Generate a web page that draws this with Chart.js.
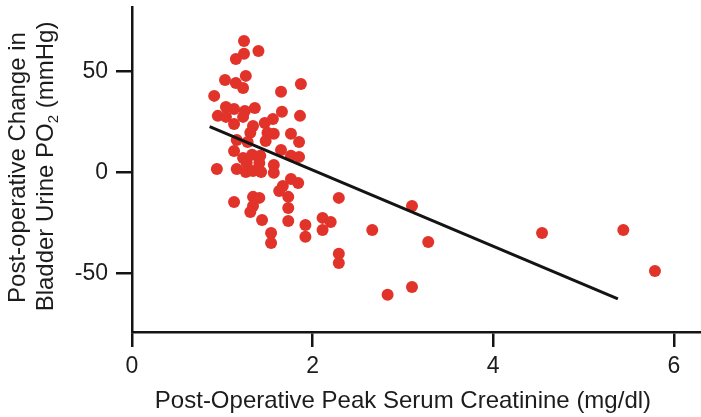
<!DOCTYPE html>
<html>
<head>
<meta charset="utf-8">
<script src="https://cdn.jsdelivr.net/npm/chart.js@4/dist/chart.umd.min.js"></script>
<style>
  html, body { margin: 0; padding: 0; background: #ffffff; }
  #wrap { width: 701px; height: 417px; }
</style>
</head>
<body>
<div id="wrap"><canvas id="chart" width="701" height="417"></canvas></div>
<script>
// Post-operative peak serum creatinine (mg/dl) per patient
const creatinine = [
  1.24, 1.40, 1.24, 1.15, 1.26, 1.03, 1.15, 1.23, 1.87, 0.91,
  1.65, 1.04, 1.13, 1.25, 1.36, 1.66, 1.86, 0.95, 1.04, 1.23,
  1.13, 1.34, 1.47, 1.56, 1.31, 1.50, 1.57, 1.76, 1.85, 1.48,
  1.16, 1.28, 1.13, 1.65, 1.23, 1.33, 1.42, 1.76, 1.85, 1.27,
  1.41, 1.57, 0.94, 1.16, 1.26, 1.34, 1.43, 1.57, 1.76, 1.84,
  1.67, 1.63, 1.34, 1.41, 1.73, 1.13, 1.34, 1.31, 1.73, 1.44,
  1.73, 1.92, 1.54, 1.92, 1.54, 2.29, 3.10, 2.11, 2.20, 2.11,
  2.66, 3.28, 4.54, 5.44, 5.79, 2.29, 2.29, 3.10, 2.83
];

// Post-operative change in bladder urine PO2 (mmHg), same patient order
const po2Change = [
  65.1, 60.1, 58.7, 56.2, 47.8, 45.8, 44.3, 41.8, 43.8, 37.9,
  39.9, 32.4, 31.4, 30.4, 31.9, 30.0, 28.0, 28.0, 27.5, 27.5,
  24.0, 23.0, 24.5, 26.5, 19.6, 19.6, 19.1, 19.1, 15.1, 15.6,
  16.1, 15.1, 10.6, 11.1, 7.2, 8.7, 8.2, 8.2, 7.7, 4.7,
  4.7, 3.7, 1.7, 1.7, 0.2, 0.7, 0.2, -0.2, -3.2, -5.2,
  -6.7, -9.2, -12.1, -12.6, -12.1, -14.6, -16.6, -19.6, -17.6, -23.5,
  -24.0, -26.0, -30.0, -31.9, -34.9, -12.6, -16.6, -22.5, -24.5, -28.5,
  -28.5, -34.4, -30.0, -28.5, -48.8, -40.3, -44.8, -56.7, -60.6
];

// Linear regression line end points
const fitX = [0.86, 5.38];
const fitY = [22.7, -62.6];

// Axis ticks and ranges
const xTicks = [0, 2, 4, 6];
const yTicks = [-50, 0, 50];
const xRange = [0, 6.3];
const yRange = [-79.0, 81.9];

// Axis titles
const xTitle = 'Post-Operative Peak Serum Creatinine (mg/dl)';
const yTitleLine1 = 'Post-operative Change in';
const yTitleLine2 = ['Bladder Urine PO', '2', ' (mmHg)'];

const FONT = '"Liberation Sans", Arial, Helvetica, sans-serif';
const INK = '#141414';
const DOT = '#E1332A';
const TITLE_PX = 24;
const TICK_PX = 23;

const points = creatinine.map((c, i) => ({ x: c, y: po2Change[i] }));
const fitLine = fitX.map((v, i) => ({ x: v, y: fitY[i] }));

// Draws both axis titles (the y title carries a subscript)
const axisTitles = {
  id: 'axisTitles',
  afterDraw(chart) {
    const { ctx } = chart;
    const xs = chart.scales.x;
    const ys = chart.scales.y;
    ctx.save();
    ctx.fillStyle = '#1c1c1c';
    ctx.textBaseline = 'alphabetic';

    // x title, centred under the labelled span of the axis
    ctx.font = TITLE_PX + 'px ' + FONT;
    ctx.textAlign = 'center';
    ctx.fillText(xTitle, xs.getPixelForValue((xTicks[0] + xTicks[xTicks.length - 1]) / 2), 408);

    // y title, two rotated lines
    const cy = (ys.top + ys.bottom) / 2 - 1;
    ctx.translate(0, cy);
    ctx.rotate(-Math.PI / 2);
    ctx.fillText(yTitleLine1, 1, 25);

    const big = TITLE_PX + 'px ' + FONT;
    const small = '15px ' + FONT;
    ctx.font = big;
    const w1 = ctx.measureText(yTitleLine2[0]).width;
    const w3 = ctx.measureText(yTitleLine2[2]).width;
    ctx.font = small;
    const w2 = ctx.measureText(yTitleLine2[1]).width;
    let start = -(w1 + w2 + w3) / 2 + 2;
    ctx.textAlign = 'left';
    ctx.font = big;
    ctx.fillText(yTitleLine2[0], start, 53);
    ctx.font = small;
    ctx.fillText(yTitleLine2[1], start + w1, 58);
    ctx.font = big;
    ctx.fillText(yTitleLine2[2], start + w1 + w2, 53);
    ctx.restore();
  }
};

new Chart(document.getElementById('chart'), {
  type: 'scatter',
  data: {
    datasets: [
      {
        type: 'line',
        data: fitLine,
        borderColor: INK,
        borderWidth: 3,
        pointRadius: 0,
        fill: false,
        tension: 0
      },
      {
        data: points,
        backgroundColor: DOT,
        borderWidth: 0,
        pointRadius: 6,
        pointHoverRadius: 6
      }
    ]
  },
  options: {
    responsive: false,
    animation: false,
    devicePixelRatio: 1,
    layout: { autoPadding: false, padding: { top: 7, left: 0, right: 0, bottom: 0 } },
    plugins: { legend: { display: false }, tooltip: { enabled: false } },
    scales: {
      x: {
        type: 'linear',
        min: xRange[0],
        max: xRange[1],
        afterBuildTicks: s => { s.ticks = xTicks.map(v => ({ value: v })); },
        afterFit: s => { s.height = 85; s.paddingLeft = 0; s.paddingRight = 0; },
        border: { display: true, color: INK, width: 2.5 },
        grid: { drawOnChartArea: false, drawTicks: true, tickLength: 15, color: INK, lineWidth: 2.5 },
        ticks: { color: '#1c1c1c', font: { family: FONT, size: TICK_PX }, padding: 6, maxRotation: 0 }
      },
      y: {
        type: 'linear',
        min: yRange[0],
        max: yRange[1],
        afterBuildTicks: s => { s.ticks = yTicks.map(v => ({ value: v })); },
        afterFit: s => { s.width = 132; s.paddingTop = 0; s.paddingBottom = 0; },
        border: { display: true, color: INK, width: 2.5 },
        grid: { drawOnChartArea: false, drawTicks: true, tickLength: 16, color: INK, lineWidth: 2.5 },
        ticks: { color: '#1c1c1c', font: { family: FONT, size: TICK_PX }, padding: 8 }
      }
    }
  },
  plugins: [axisTitles]
});
</script>
</body>
</html>
